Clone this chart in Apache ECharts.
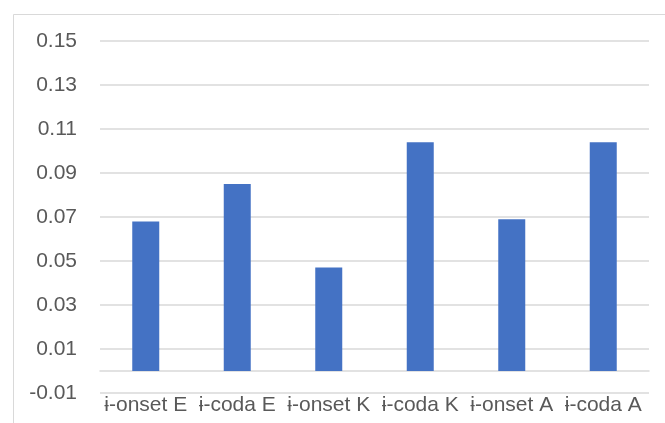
<!DOCTYPE html>
<html>
<head>
<meta charset="utf-8">
<script src="https://cdn.jsdelivr.net/npm/echarts@6/dist/echarts.min.js"></script>
<style>html,body{margin:0;padding:0;background:#fff;}#c{width:665px;height:423px;}</style>
</head>
<body>
<div id="c"></div>
<script>
var categories = ['ɨ-onset E', 'ɨ-coda E', 'ɨ-onset K', 'ɨ-coda K', 'ɨ-onset A', 'ɨ-coda A'];
var values = [0.068, 0.085, 0.047, 0.104, 0.069, 0.104];
var yMin = -0.01, yMax = 0.15, yStep = 0.02;

var chart = echarts.init(document.getElementById('c'), null, {renderer: 'canvas'});
var font = 'Liberation Sans';
chart.setOption({
  animation: false,
  backgroundColor: '#fff',
  graphic: [{
    type: 'rect', left: 11, top: 12, silent: true,
    shape: {width: 700, height: 500},
    style: {fill: 'none', stroke: '#d9d9d9', lineWidth: 1}
  }],
  grid: {left: 100, right: 16, top: 41, bottom: 30},
  xAxis: [{
    type: 'category', data: categories, position: 'bottom',
    axisLine: {show: false, onZero: false}, axisTick: {show: false},
    axisLabel: {color: '#595959', fontFamily: font, fontSize: 21, margin: 2, interval: 0}
  }, {
    type: 'category', data: categories, position: 'bottom',
    axisLine: {show: true, onZero: true, lineStyle: {color: '#d9d9d9', width: 1.5}},
    axisTick: {show: false}, axisLabel: {show: false}
  }],
  yAxis: {
    type: 'value', min: yMin, max: yMax, interval: yStep,
    axisLine: {show: false}, axisTick: {show: false},
    axisLabel: {color: '#595959', fontFamily: font, fontSize: 21, margin: 23,
      formatter: function (v) { return v.toFixed(2); }},
    splitLine: {lineStyle: {color: '#d9d9d9', width: 1.5}}
  },
  series: [{
    type: 'bar', data: values, barWidth: 27,
    itemStyle: {color: '#4472c4'}
  }]
});
</script>
</body>
</html>
